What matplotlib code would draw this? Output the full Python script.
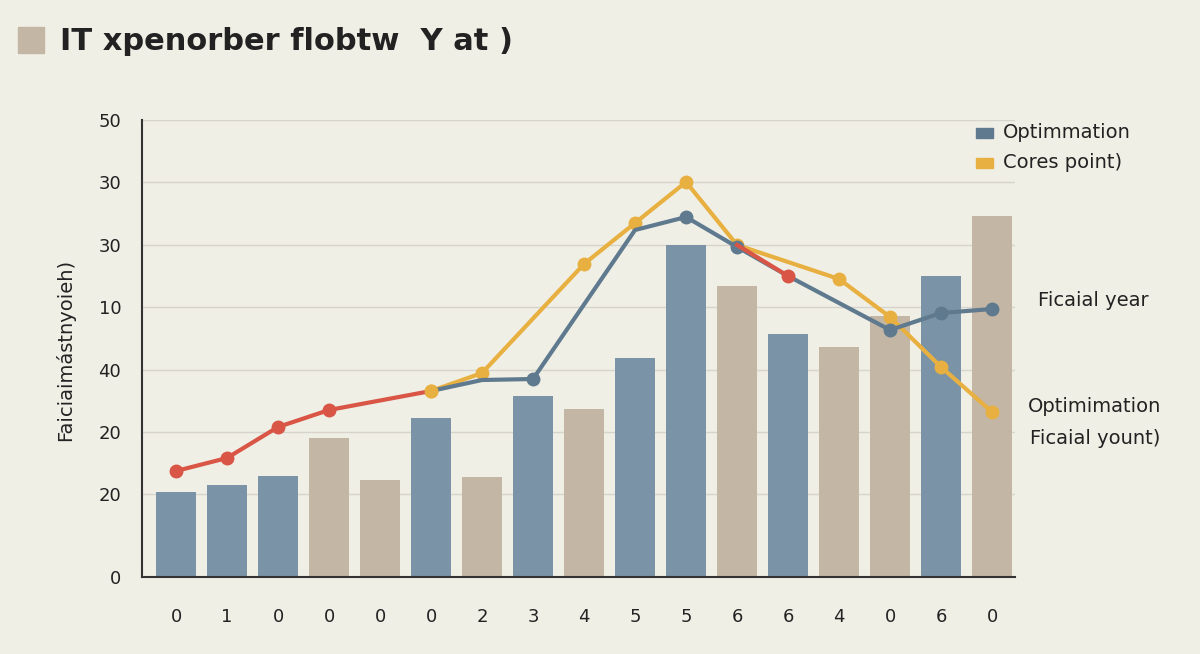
import numpy as np
import matplotlib.pyplot as plt

# chart values (the y scale is irregular, so values are kept in screen-like units)
x_labels = ["0", "1", "0", "0", "0", "0", "2", "3", "4", "5", "5", "6", "6", "4", "0", "6", "0"]
bar_heights = [85, 92, 101, 139, 97, 159, 100, 181, 168, 219, 332, 291, 243, 230, 261, 301, 361]
bar_kind = ["b", "b", "b", "t", "t", "b", "t", "b", "t", "b", "b", "t", "b", "t", "t", "b", "t"]

red_x = [0, 1, 2, 3, 5]
red_y = [106, 119, 150, 167, 186]
blue_x = [5, 6, 7, 9, 10, 11, 12, 14, 15, 16]
blue_y = [186, 197, 198, 347, 360, 330, 301, 247, 264, 268]
blue_marks = [7, 10, 11, 14, 15, 16]
yellow_x = [5, 6, 8, 9, 10, 11, 13, 14, 15, 16]
yellow_y = [186, 204, 313, 354, 395, 332, 298, 260, 210, 165]
red2_x = [11, 12]
red2_y = [332, 301]

tick_pos = [0, 83, 145, 207, 270, 332, 395, 457]
tick_lab = ["0", "20", "20", "40", "10", "30", "30", "50"]

BG = "#f0efe6"
BLUE = "#7b93a7"
TAN = "#c3b6a4"
LBLUE = "#5f7a8e"
YEL = "#e8b040"
RED = "#d95545"

fig = plt.figure(figsize=(12, 6.54), dpi=100, facecolor=BG)
ax = fig.add_axes([142 / 1200, 77 / 654, 873 / 1200, 457 / 654], facecolor=BG)

for v in tick_pos[1:]:
    ax.axhline(v, color="#d6d4cc", lw=1, zorder=0)

xs = np.arange(len(bar_heights))
ax.bar(xs, bar_heights, width=0.78,
       color=[BLUE if k == "b" else TAN for k in bar_kind], zorder=2)

ax.plot(yellow_x, yellow_y, color=YEL, lw=3, marker="o", ms=9, zorder=4)
ax.plot(blue_x, blue_y, color=LBLUE, lw=3, zorder=5)
bm = [blue_y[blue_x.index(i)] for i in blue_marks]
ax.plot(blue_marks, bm, "o", color=LBLUE, ms=9, zorder=6)
ax.plot(red_x, red_y, color=RED, lw=3, zorder=5)
ax.plot(red_x[:-1], red_y[:-1], "o", color=RED, ms=9, zorder=6)
ax.plot(red2_x, red2_y, color=RED, lw=3, zorder=6)
ax.plot(red2_x[1:], red2_y[1:], "o", color=RED, ms=9, zorder=7)
ax.plot(5, 186, "o", color=YEL, ms=9, zorder=7)

ax.set_xlim(-0.667, 16.45)
ax.set_ylim(0, 457)
ax.set_xticks(xs)
ax.set_xticklabels(x_labels)
ax.set_yticks(tick_pos)
ax.set_yticklabels(tick_lab)
ax.tick_params(length=0, labelsize=13, colors="#222222")
ax.tick_params(axis="x", pad=22)
ax.tick_params(axis="y", pad=15)
for s in ["top", "right"]:
    ax.spines[s].set_visible(False)
ax.spines["left"].set_color("#333333")
ax.spines["bottom"].set_color("#333333")
ax.spines["left"].set_linewidth(1.5)
ax.spines["bottom"].set_linewidth(1.5)

fig.text(65 / 1200, 1 - 350 / 654, "Faiciaimástnyoieh)", rotation=90,
         ha="center", va="center", fontsize=14, color="#222222")

fig.patches.append(plt.Rectangle((18 / 1200, 1 - 53 / 654), 26 / 1200, 26 / 654,
                                 transform=fig.transFigure, color=TAN))
fig.text(60 / 1200, 1 - 42 / 654, "IT xpenorber flobtw  Y at )", fontsize=22,
         fontweight="semibold", va="center", color="#222222")

fig.patches.append(plt.Rectangle((976 / 1200, 1 - 138 / 654), 17 / 1200, 10 / 654,
                                 transform=fig.transFigure, color=LBLUE))
fig.patches.append(plt.Rectangle((976 / 1200, 1 - 168 / 654), 17 / 1200, 10 / 654,
                                 transform=fig.transFigure, color=YEL))
fig.text(1003 / 1200, 1 - 133 / 654, "Optimmation", fontsize=14, va="center", color="#222222")
fig.text(1003 / 1200, 1 - 163 / 654, "Cores point)", fontsize=14, va="center", color="#222222")
fig.text(1038 / 1200, 1 - 301 / 654, "Ficaial year", fontsize=14, va="center", color="#222222")
fig.text(1028 / 1200, 1 - 406 / 654, "Optimimation", fontsize=14, va="center", color="#222222")
fig.text(1030 / 1200, 1 - 438 / 654, "Ficaial yount)", fontsize=14, va="center", color="#222222")

fig.savefig("out.png", dpi=100, facecolor=BG)
